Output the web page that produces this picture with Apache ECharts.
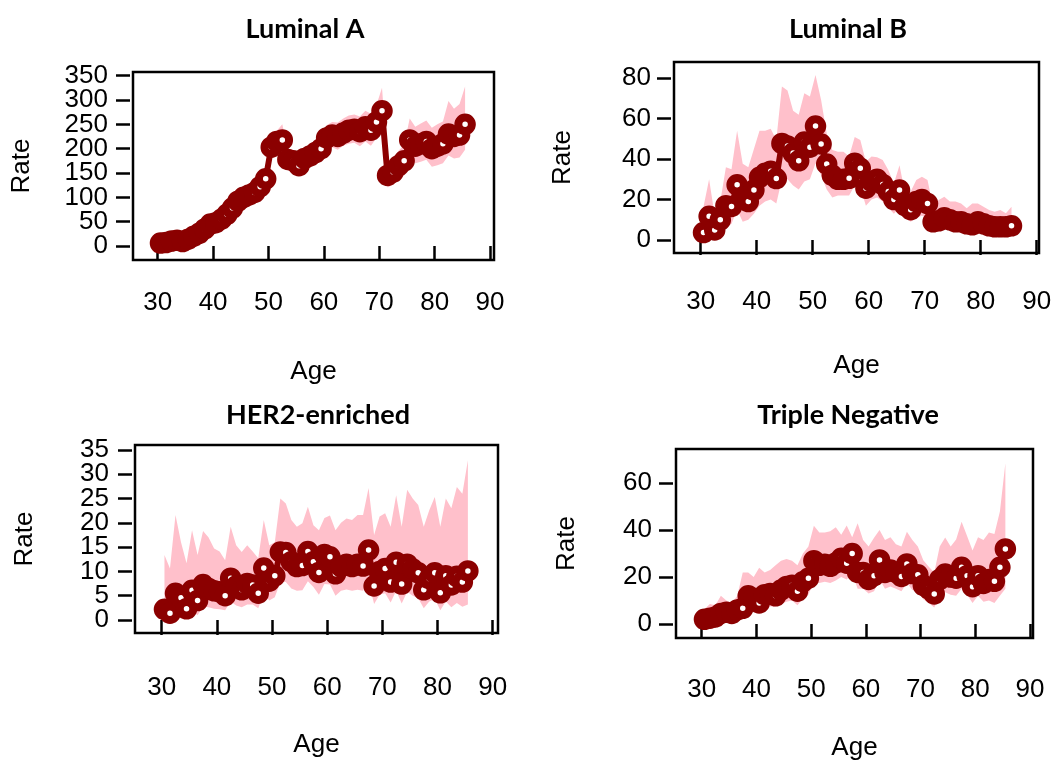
<!DOCTYPE html>
<html><head><meta charset="utf-8">
<script src="https://cdn.jsdelivr.net/npm/echarts@6/dist/echarts.min.js"></script>
<style>html,body{margin:0;padding:0;background:#fff}#c{width:1059px;height:763px}</style>
</head><body><div id="c"></div>
<script>
// ---- data ----
const ages = [30.5,31.5,32.5,33.5,34.5,35.5,36.5,37.5,38.5,39.5,
  40.5,41.5,42.5,43.5,44.5,45.5,46.5,47.5,48.5,49.5,
  50.5,51.5,52.5,53.5,54.5,55.5,56.5,57.5,58.5,59.5,
  60.5,61.5,62.5,63.5,64.5,65.5,66.5,67.5,68.5,69.5,
  70.5,71.5,72.5,73.5,74.5,75.5,76.5,77.5,78.5,79.5,
  80.5,81.5,82.5,83.5,84.5,85.5];
const xTicks = [30,40,50,60,70,80,90];

const lumA_rate = [6,7,10,12,9,14,20,26,35,45, 48,55,65,78,92,100,105,110,122,138,
  203,215,218,178,175,165,180,185,192,200, 222,228,225,232,238,240,235,245,238,255,
  278,145,152,165,175,218,205,210,215,200, 205,210,230,225,228,250];
const lumA_lo = [3,4,6,8,5,10,15,20,28,37, 40,46,55,67,80,87,92,96,107,122,
  183,194,196,158,155,145,159,163,170,177, 198,203,198,206,210,212,205,215,206,222,
  240,120,126,137,145,183,170,173,177,163, 166,170,186,180,182,198];
const lumA_hi = [10,11,15,17,13,19,26,33,43,54, 57,65,76,90,105,114,119,125,138,155,
  224,237,250,199,196,186,202,208,216,224, 248,255,254,262,268,270,266,278,272,290,
  325,172,181,196,208,262,245,252,258,243, 250,256,298,282,292,328];
const lumA_yTicks = [0,50,100,150,200,250,300,350];

const lumB_rate = [3.7,11.7,5,10,17,16.6,27.3,21,19,24.7, 31,33,34,30.4,47.8,46.5,43,39.2,48.5,45.9,
  56.4,47.5,37.6,32,30,30,30.5,38,35.5,25.6, 29,30,27.5,24,20,24.7,17,15,19,20,
  18,9,9.5,11,10,9,9,8,7.5,9, 8,7,6.5,6.5,6.5,7];
const lumB_lo = [1,4,1.5,4,6,8,15,9,10,13, 17,19,20,18,30,30,27,25,29,30,
  38,32,25,21,22,22,22,27,26,17, 20,21,19,16,13,16,11,9,11,12,
  11,5,5.5,6,5.5,5.5,5,4.5,4,5, 4.5,4,3.5,3.5,3.5,3.5];
const lumB_hi = [16.5,30,12,19,36,35,54,37.7,36,45, 54,54,55,49.5,76,74,64,62,72.6,71,
  81.6,69.3,52.7,44.5,43.7,43.7,41.3,51,49.5,38.7, 41.3,41,39.6,34.6,28,37,23,24,29.7,31.3,
  29.7,16.5,19.8,21.4,19,19,18,15.7,18,18, 16.5,14.8,14,14.8,13.2,16.5];
const lumB_yTicks = [0,20,40,60,80];

const her2_rate = [2.2,1.4,5.5,4.6,2.3,6.1,4.0,7.3,6.5,6.0, 5.8,5.0,8.6,7.0,6.2,7.5,7.2,5.5,10.7,8.0,
  9.1,14.0,13.9,12.0,11.0,11.2,14.1,12.0,9.8,13.5, 13.0,9.5,11.0,11.5,11.0,11.5,11.1,14.4,7.0,10.0,
  10.6,7.8,11.9,7.4,11.5,10.5,9.7,6.2,8.5,9.7, 5.6,9.1,7.2,9.0,7.8,10.1];
const her2_lo = [0.3,0.1,1.5,1.2,0.4,2.0,1.0,2.8,2.6,2.3, 2.2,2.0,3.8,3.0,2.6,3.2,3.2,2.4,5.4,4.0,
  4.7,7.8,7.8,6.5,6.0,6.1,8.0,6.8,5.2,7.4, 7.3,5.0,6.0,6.3,6.0,6.2,6.0,8.0,3.3,5.2,
  5.5,3.6,6.0,3.4,5.8,5.0,4.5,2.4,3.8,4.3, 2.0,3.8,2.6,3.5,2.7,3.2];
const her2_hi = [13.4,10.6,21.6,16,11.7,18.5,13.4,18.3,17,14.7, 14.1,12.3,19.2,15.4,14,15.4,14.1,12.7,20.6,15.4,
  16,25,24,20.6,19.2,19.9,23.3,19.5,18.5,21, 21.5,18.5,20,20.9,20.6,21.6,21.6,27.2,17.5,21.3,
  22,19.2,25.7,19.2,26.8,25,23.7,19.2,22.6,25.3, 19.2,25,23,27.4,26,32.9];
const her2_yTicks = [0,5,10,15,20,25,30,35];

const tn_rate = [2,2.5,3,4.5,5,4.5,6,6.7,12,11, 9,12.5,13,12,14.5,16,16.5,14,18,19.5,
  27,25,25.5,24.6,26,28,25.9,30,22,22, 19,20.6,27.3,22,23,22,20.3,25.6,21.5,21,
  16.5,15,12.8,19,21.3,20,19.5,24.2,20.6,15.9, 20.6,17.3,19,18.2,24.2,32];
const tn_lo = [0.3,0.6,1,2,2,2,3,3.5,7,6.5, 5,7,7.5,7.5,8.5,9.5,10,8,11,12.5,
  18,17.5,18,17.5,18.5,20,19,21.5,15,15, 13,14,19,15,16,15,14,17.5,14.5,14,
  10.5,9,7,12,13.5,12.5,12,15,12.5,9, 12,9.5,10,9,12,15];
const tn_hi = [6.4,8.5,8,12,10,9,12,22,22,20, 24,22,23,25,27,27.7,27,25,30,33,
  41.9,39,39,39.5,41.2,38,42,37,43,35.8, 33,36.8,40.1,35.8,37,34,33,39.3,35.8,33,
  27.2,24.4,22,33,36.9,33,36,43.6,37.5,31.3, 37,35.8,39,38.4,48,68.5];
const tn_yTicks = [0,20,40,60];

const titles = ['Luminal A','Luminal B','HER2-enriched','Triple Negative'];

// ---- layout ----
const panels = [
  {title:titles[0], rate:lumA_rate, lo:lumA_lo, hi:lumA_hi, yTicks:lumA_yTicks,
   grid:{left:133, top:72, width:361, height:188}, xr:[25.54,90.72], yr:[-28.8,357.6],
   tx:300, ty:11, xMargin:27, yMargin:22, xGap:96, yGap:95},
  {title:titles[1], rate:lumB_rate, lo:lumB_lo, hi:lumB_hi, yTicks:lumB_yTicks,
   grid:{left:674, top:62, width:365, height:191}, xr:[25.23,90.41], yr:[-6.43,88.07],
   tx:843, ty:11, xMargin:33, yMargin:20, xGap:97, yGap:95},
  {title:titles[2], rate:her2_rate, lo:her2_lo, hi:her2_hi, yTicks:her2_yTicks,
   grid:{left:135, top:445, width:363, height:188}, xr:[25.16,90.96], yr:[-2.68,36.03],
   tx:313, ty:397, xMargin:39, yMargin:23, xGap:96, yGap:94},
  {title:titles[3], rate:tn_rate, lo:tn_lo, hi:tn_hi, yTicks:tn_yTicks,
   grid:{left:676, top:449, width:357, height:189}, xr:[25.30,90.55], yr:[-5.97,74.6],
   tx:843, ty:397, xMargin:36, yMargin:21, xGap:94, yGap:93}
];

const DARK = '#8B0000', PINK = '#FFC0CB';
const FONT = '"Liberation Sans", Arial, sans-serif';
const option = {animation:false, title:[], grid:[], xAxis:[], yAxis:[], series:[]};

function yAxisDef(p, i, values, withName){
  return {gridIndex:i, type:'value', position:'left', min:p.yr[0], max:p.yr[1], offset:3,
    axisLine:{show:false}, splitLine:{show:false},
    axisTick:{show:true, length:14, customValues:values, lineStyle:{color:'#000', width:2.5}},
    axisLabel:{customValues:values, margin:p.yMargin, fontSize:26, color:'#000', fontFamily:FONT,
      showMinLabel:true, showMaxLabel:true, hideOverlap:false},
    name: withName ? 'Rate' : '', nameLocation:'middle', nameGap:p.yGap,
    nameTextStyle:{fontSize:26, color:'#000', fontFamily:FONT}};
}

panels.forEach((p, i) => {
  option.title.push({text:p.title, left:p.tx, top:p.ty, textAlign:'center',
    textStyle:{fontFamily:'Lato, "Open Sans", sans-serif', fontWeight:'bold', fontSize:27, color:'#000'}});
  option.grid.push(Object.assign({show:true, borderColor:'#000', borderWidth:2.5, backgroundColor:'transparent'}, p.grid));
  option.xAxis.push({gridIndex:i, type:'value', min:p.xr[0], max:p.xr[1], offset:3,
    axisLine:{show:false}, splitLine:{show:false},
    axisTick:{show:true, length:15, customValues:xTicks, lineStyle:{color:'#000', width:2.5}},
    axisLabel:{customValues:xTicks, margin:p.xMargin, fontSize:26, color:'#000', fontFamily:FONT,
      showMinLabel:true, showMaxLabel:true, hideOverlap:false},
    name:'Age', nameLocation:'middle', nameGap:p.xGap,
    nameTextStyle:{fontSize:26, color:'#000', fontFamily:FONT}});
  // y ticks split over two co-located axes so that dense labels are never culled
  const evenTicks = p.yTicks.filter((v,k)=>k%2===0);
  const oddTicks = p.yTicks.filter((v,k)=>k%2===1);
  option.yAxis.push(yAxisDef(p, i, evenTicks, true));
  option.yAxis.push(yAxisDef(p, i, oddTicks, false));
  const yi = 2*i;
  // confidence band as one polygon: upper edge forward, lower edge back
  option.series.push({type:'custom', xAxisIndex:i, yAxisIndex:yi, silent:true, clip:true, z:1,
    data:ages.map((a,j)=>[a, p.lo[j], p.hi[j]]),
    encode:{x:0, y:[1,2]},
    renderItem:function(params, api){
      if (params.dataIndex !== 0) return null;
      const pts = [];
      for (let j = 0; j < ages.length; j++) pts.push(api.coord([ages[j], p.hi[j]]));
      for (let j = ages.length - 1; j >= 0; j--) pts.push(api.coord([ages[j], p.lo[j]]));
      return {type:'polygon', shape:{points:pts}, style:{fill:PINK, stroke:null}};
    }});
  option.series.push({type:'line', xAxisIndex:i, yAxisIndex:yi, silent:true,
    data:ages.map((a,j)=>[a, p.rate[j]]),
    symbol:'circle', symbolSize:13.5, showAllSymbol:true,
    itemStyle:{color:'#fff', borderColor:DARK, borderWidth:8},
    lineStyle:{color:DARK, width:6}, z:3});
});

const chart = echarts.init(document.getElementById('c'), null, {renderer:'canvas'});
chart.setOption(option);
</script>
</body></html>
